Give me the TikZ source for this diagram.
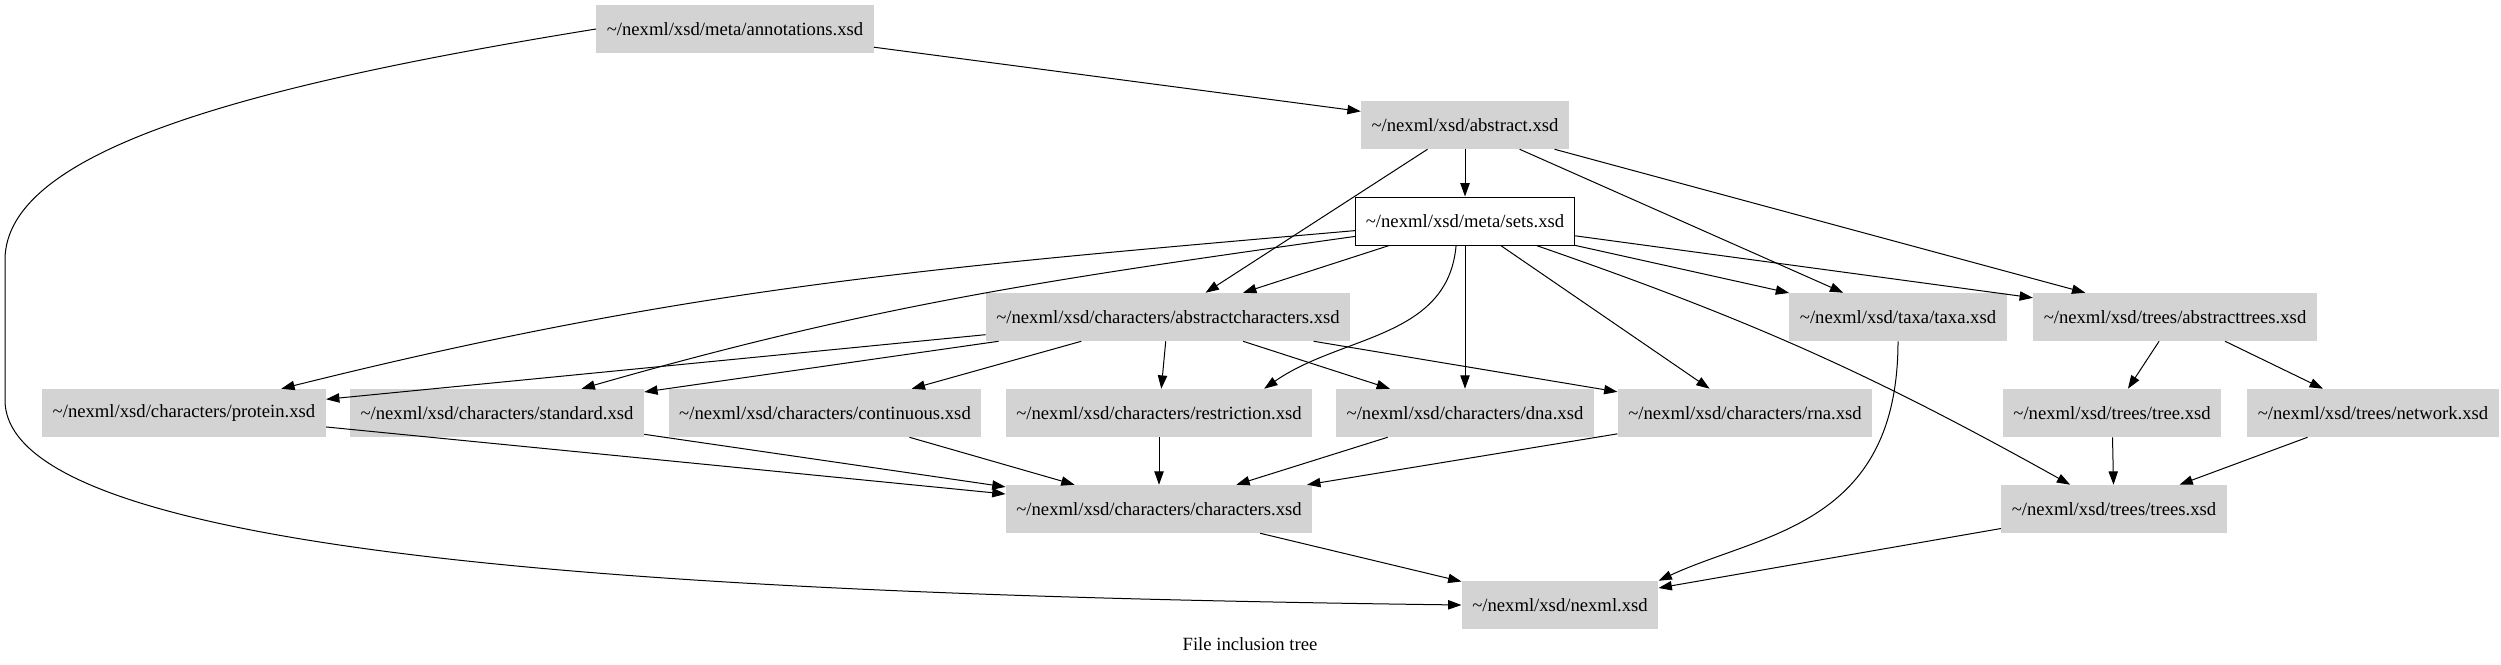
\documentclass[tikz,border=0pt]{standalone}
\usepackage{fontspec}
\setmainfont{Liberation Serif}
\usetikzlibrary{arrows.meta}
\definecolor{nodegray}{HTML}{D3D3D3}
\newcommand{\nxpath}{\textasciitilde/nexml/xsd/}

\begin{document}
\begin{tikzpicture}[x=0.75pt,y=0.75pt,font=\fontsize{14}{17}\selectfont,
    file/.style={rectangle,fill=nodegray,minimum height=36pt,inner xsep=7.9pt,inner ysep=0pt},
    dep/.style={-{Triangle[length=10pt,width=7pt]},line width=0.75pt}]
            \useasboundingbox (0,0) rectangle (2501,-664);

            \node (annot) at (735,-29) [file] {\nxpath meta/annotations.xsd};
            \node (abs) at (1465,-125) [file] {\nxpath abstract.xsd};
            \node (sets) at (1465,-221) [file,fill=white,draw,line width=0.75pt] {\nxpath meta/sets.xsd};
            \node (achar) at (1168,-317) [file] {\nxpath characters/abstractcharacters.xsd};
            \node (taxa) at (1898,-317) [file] {\nxpath taxa/taxa.xsd};
            \node (atree) at (2175,-317) [file] {\nxpath trees/abstracttrees.xsd};
            \node (prot) at (184,-413) [file] {\nxpath characters/protein.xsd};
            \node (std) at (497,-413) [file] {\nxpath characters/standard.xsd};
            \node (cont) at (825,-413) [file] {\nxpath characters/continuous.xsd};
            \node (restr) at (1159,-413) [file] {\nxpath characters/restriction.xsd};
            \node (dna) at (1465,-413) [file] {\nxpath characters/dna.xsd};
            \node (rna) at (1745,-413) [file] {\nxpath characters/rna.xsd};
            \node (tree) at (2112,-413) [file] {\nxpath trees/tree.xsd};
            \node (netw) at (2373,-413) [file] {\nxpath trees/network.xsd};
            \node (chars) at (1159,-509) [file] {\nxpath characters/characters.xsd};
            \node (trees) at (2114,-509) [file] {\nxpath trees/trees.xsd};
            \node (nexml) at (1560,-605) [file] {\nxpath nexml.xsd};
            \node (cap) at (1250,-644) {File inclusion tree};

            \draw[dep] (annot) edge (abs) (abs) edge (sets) edge (achar) edge (taxa) edge (atree)
                (sets) edge (achar) edge (dna) edge (rna) edge (taxa) edge (atree)
                (achar) edge (prot) edge (std) edge (cont) edge (restr) edge (dna) edge (rna)
                (atree) edge (tree) edge (netw)
                (prot) edge (chars) (std) edge (chars) (cont) edge (chars) (restr) edge (chars) (dna) edge (chars) (rna) edge (chars)
                (tree) edge (trees) (netw) edge (trees) (chars) edge (nexml) (trees) edge (nexml);

            \draw[dep] (sets) to[out=185,in=14] (prot);
            \draw[dep] (sets) to[out=188,in=16] (std);
            \draw[dep] (sets.250) to[out=-95,in=35] (restr.13);
            \draw[dep] (sets) to[bend left=5] (trees);
            \draw[dep] (taxa) to[out=-90,in=25,out looseness=1.4,in looseness=0.85] (nexml.north east);
            \draw[dep] (annot.west) .. controls (250,-85) and (5,-150) .. (5,-260) -- (5,-400) .. controls (5,-560) and (700,-595) .. (nexml.west);

        \end{tikzpicture}
\end{document}
